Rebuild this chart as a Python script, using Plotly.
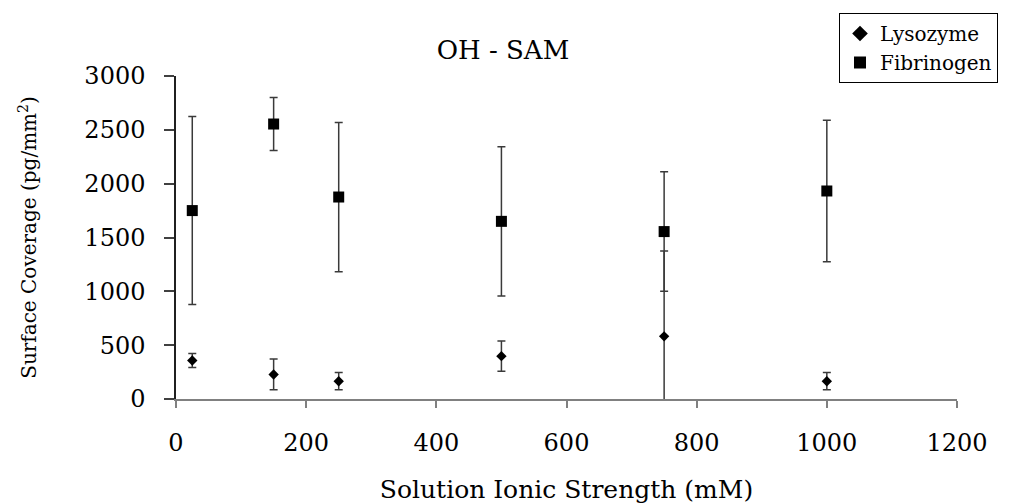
import plotly.graph_objects as go

ionic_strength = [25, 150, 250, 500, 750, 1000]
lysozyme = [358, 228, 165, 398, 582, 165]
lysozyme_err = [65, 143, 80, 141, 793, 80]
fibrinogen = [1750, 2554, 1876, 1650, 1555, 1932]
fibrinogen_err = [873, 246, 693, 694, 555, 658]

x_ticks = [0, 200, 400, 600, 800, 1000, 1200]
y_ticks = [0, 500, 1000, 1500, 2000, 2500, 3000]

FONT = "DejaVu Serif"
W, H = 1009, 496  # page body has an 8px margin

fig = go.Figure()
fig.add_trace(go.Scatter(
    x=ionic_strength, y=lysozyme, mode="markers", name="Lysozyme",
    marker=dict(symbol="diamond", size=8, color="black"),
    error_y=dict(type="data", array=lysozyme_err, visible=True,
                 color="#3a3a3a", thickness=1.5, width=4),
))
fig.add_trace(go.Scatter(
    x=ionic_strength, y=fibrinogen, mode="markers", name="Fibrinogen",
    marker=dict(symbol="square", size=11, color="black"),
    error_y=dict(type="data", array=fibrinogen_err, visible=True,
                 color="#3a3a3a", thickness=1.5, width=4),
))

fig.update_layout(
    width=W, height=H,
    margin=dict(l=168, r=60, t=68, b=105, autoexpand=False),
    paper_bgcolor="white", plot_bgcolor="white",
    font=dict(family=FONT, color="black", size=22),
    title=dict(text="OH - SAM", x=495 / W, xanchor="center",
               y=1 - 42 / H, yanchor="middle",
               font=dict(family=FONT, size=26, color="black")),
    showlegend=True,
    legend=dict(x=(839 - 176) / 781, xanchor="left",
                y=(391 - 5) / 323, yanchor="top",
                bgcolor="white", bordercolor="black", borderwidth=1,
                font=dict(family=FONT, size=20, color="black"),
                itemsizing="constant", tracegroupgap=0),
)

fig.update_xaxes(
    range=[0, 1200], tickvals=x_ticks, ticktext=[str(v) for v in x_ticks],
    showgrid=False, zeroline=False, showline=True, linecolor="#808080",
    linewidth=2, ticks="outside", ticklen=7, tickwidth=2, tickcolor="#808080",
    tickfont=dict(family=FONT, size=24, color="black"),
    ticklabelstandoff=14, automargin=False,
    title=dict(text="Solution Ionic Strength (mM)", standoff=28,
               font=dict(family=FONT, size=25, color="black")),
)
fig.update_yaxes(
    range=[0, 3000], tickvals=y_ticks, ticktext=[str(v) for v in y_ticks],
    showgrid=False, zeroline=False, showline=True, linecolor="#202020",
    linewidth=1.5, ticks="outside", ticklen=10, tickwidth=1.5, tickcolor="#404040",
    tickfont=dict(family=FONT, size=24, color="black"),
    ticklabelstandoff=14, automargin=False,
    title=dict(text="Surface Coverage (pg/mm<sup>2</sup>)", standoff=42,
               font=dict(family=FONT, size=20, color="black")),
)

fig.write_html("out.html")
